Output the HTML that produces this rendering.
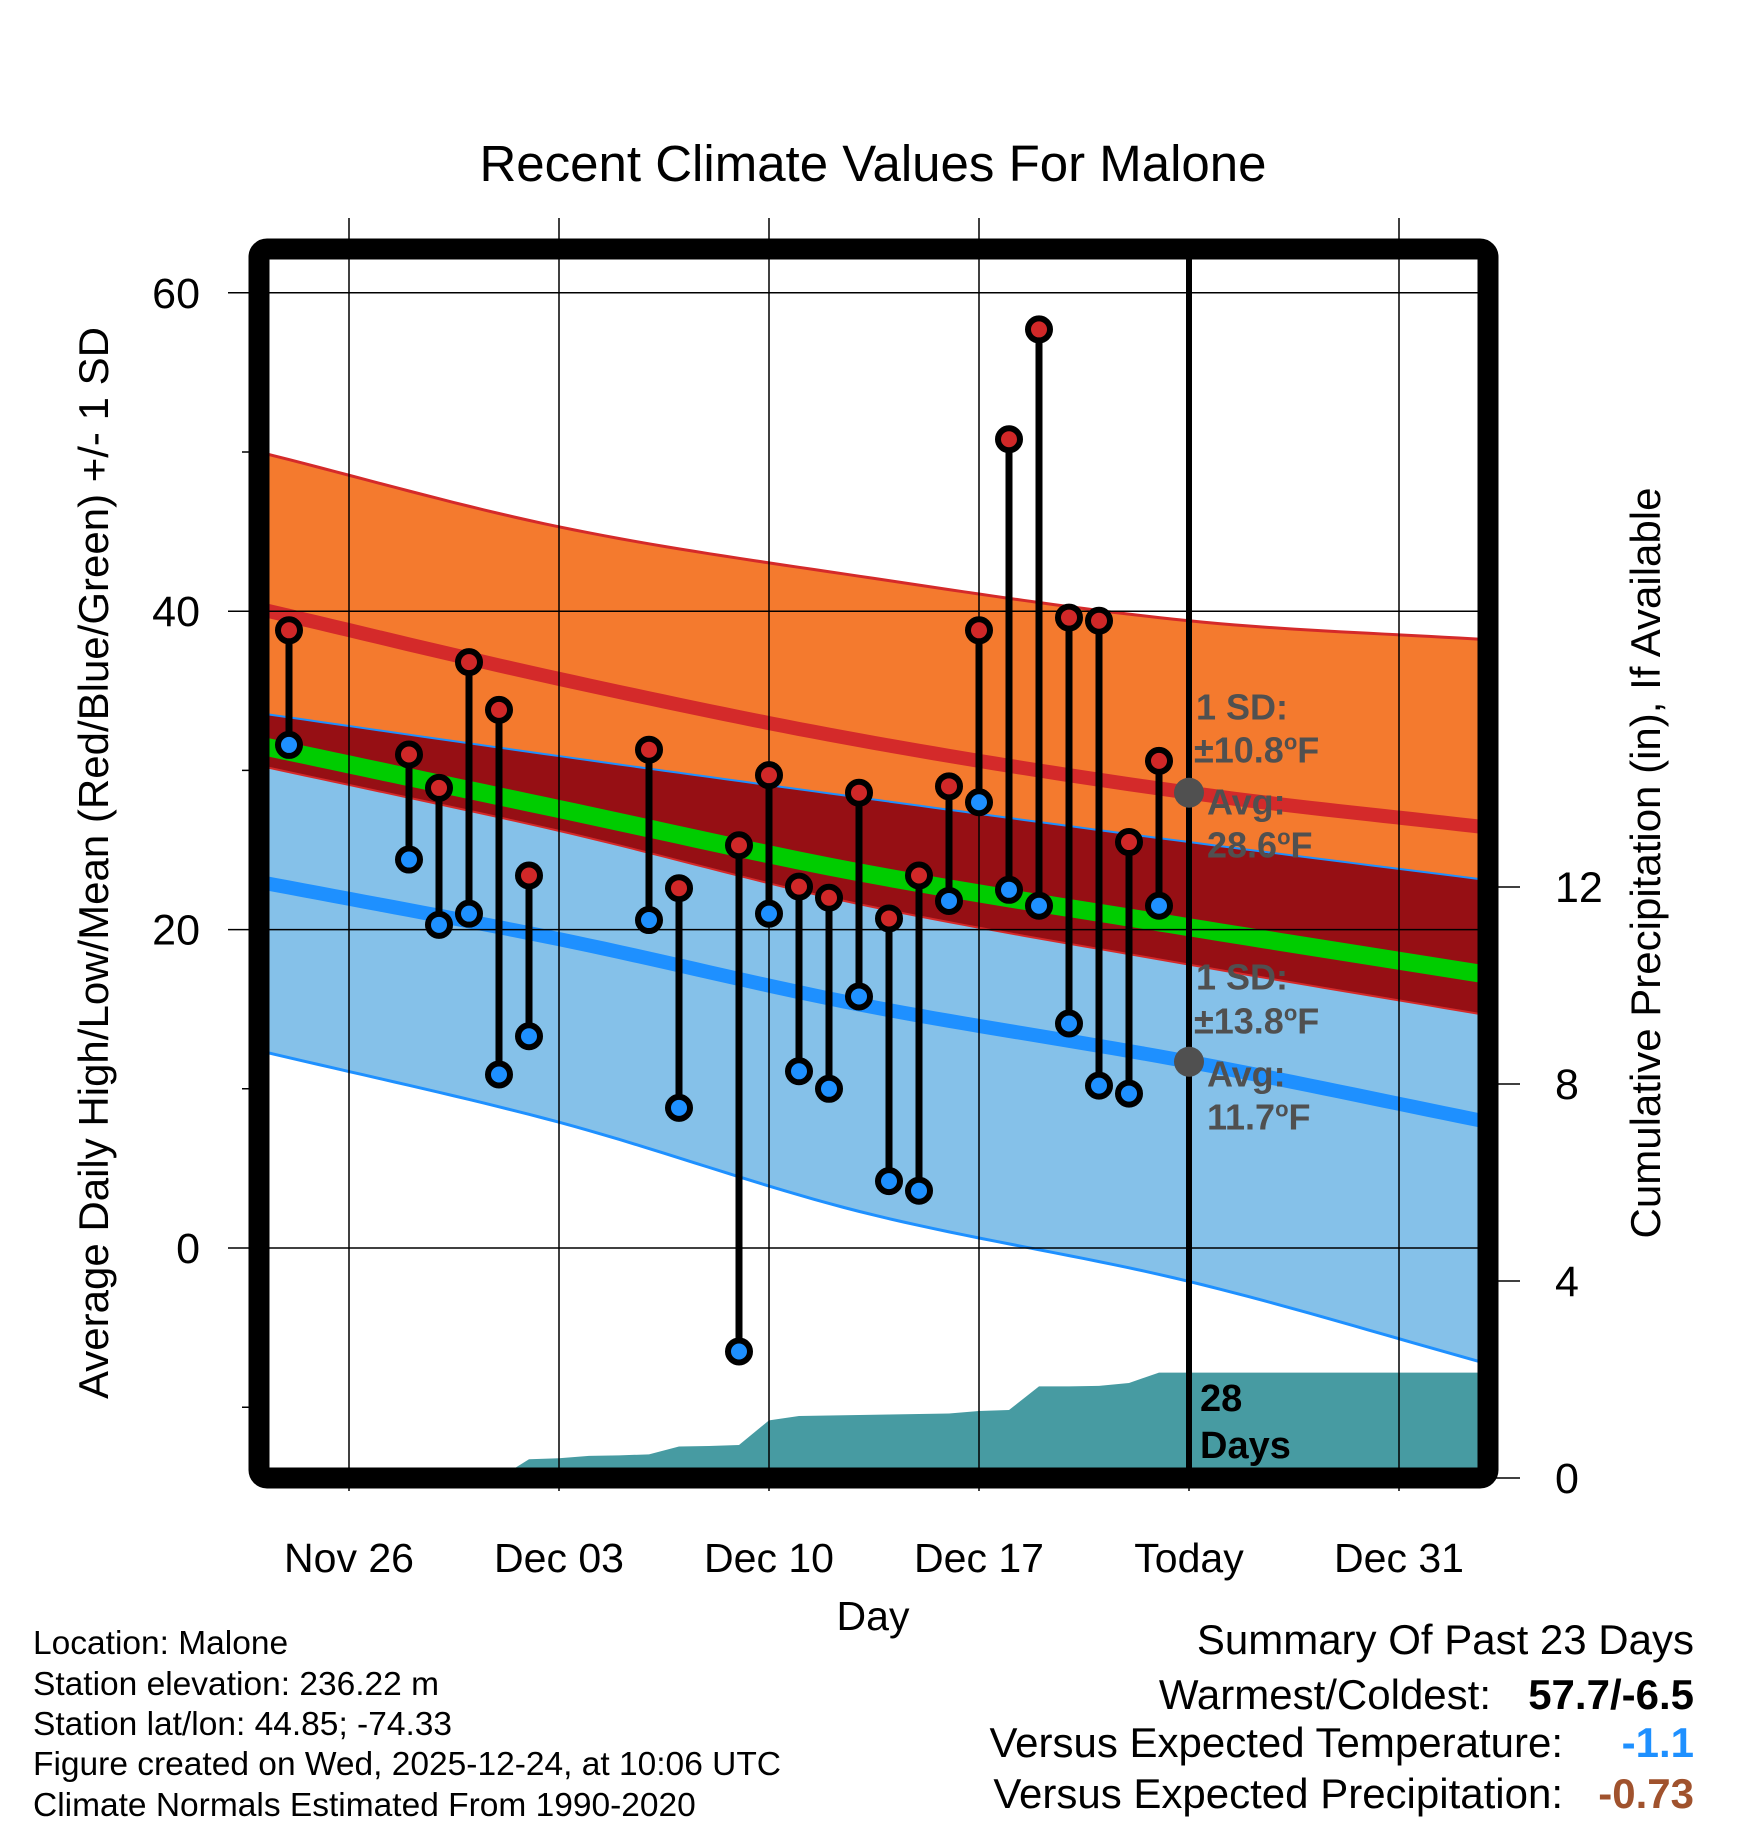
<!DOCTYPE html>
<html><head><meta charset="utf-8">
<style>
html,body{margin:0;padding:0;background:#fff;}
svg{display:block;font-family:"Liberation Sans",Arial,sans-serif;}
</style></head>
<body>
<svg id="chart" width="1748" height="1828" viewBox="0 0 1748 1828" xmlns="http://www.w3.org/2000/svg">
<defs><clipPath id="plotclip"><rect x="259" y="249" width="1229" height="1229"/></clipPath></defs>
<g id="plot" clip-path="url(#plotclip)"></g>
<g id="axes"></g>
<text x="873" y="181" font-size="51" text-anchor="middle">Recent Climate Values For Malone</text>
<text x="873" y="1630" font-size="41" text-anchor="middle">Day</text>
<text transform="translate(108,863) rotate(-90)" font-size="42" text-anchor="middle">Average Daily High/Low/Mean (Red/Blue/Green) +/- 1 SD</text>
<text transform="translate(1660,863) rotate(-90)" font-size="42" text-anchor="middle">Cumulative Precipitation (in), If Available</text>
<g font-size="33.5">
<text x="33" y="1654">Location: Malone</text>
<text x="33" y="1695">Station elevation: 236.22 m</text>
<text x="33" y="1735">Station lat/lon: 44.85; -74.33</text>
<text x="33" y="1775">Figure created on Wed, 2025-12-24, at 10:06 UTC</text>
<text x="33" y="1816">Climate Normals Estimated From 1990-2020</text>
</g>
<g font-size="42" text-anchor="end">
<text x="1694" y="1654">Summary Of Past 23 Days</text>
<text x="1491" y="1709">Warmest/Coldest:</text>
<text x="1694" y="1709" font-weight="bold">57.7/-6.5</text>
<text x="1563" y="1757">Versus Expected Temperature:</text>
<text x="1694" y="1757" font-weight="bold" fill="#1e90ff">-1.1</text>
<text x="1563" y="1808">Versus Expected Precipitation:</text>
<text x="1694" y="1808" font-weight="bold" fill="#a0522d">-0.73</text>
</g>
</svg>
<script>
// day 0 = Nov 23
const obsDays = [1,5,6,7,8,9,13,14,16,17,18,19,20,21,22,23,24,25,26,27,28,29,30];
const obsHigh = [38.8,31.0,28.9,36.8,33.8,23.4,31.3,22.6,25.3,29.7,22.7,22.0,28.6,20.7,23.4,29.0,38.8,50.8,57.7,39.6,39.4,25.5,30.6];
const obsLow  = [31.6,24.4,20.3,21.0,10.9,13.3,20.6,8.8,-6.5,21.0,11.1,10.0,15.8,4.2,3.6,21.8,28.0,22.5,21.5,14.1,10.2,9.7,21.5];
const normDays = [0,10,20,31,41];
const highMean = [40.15,35.75,31.9,28.6,26.4];
const highSd   = [9.85,9.55,10.3,10.8,11.8];
const lowMean  = [23.0,19.4,15.3,11.7,7.9];
const lowSd    = [10.6,11.5,13.0,13.8,15.2];
const precipCum = [0,0,0,0,0,0,0,0,0,0.38,0.40,0.45,0.46,0.48,0.64,0.65,0.67,1.17,1.26,1.27,1.28,1.29,1.30,1.31,1.36,1.38,1.86,1.86,1.87,1.93,2.14,2.14];
const xTickDays = [3,10,17,24,31,38];
const xTickLabels = ["Nov 26","Dec 03","Dec 10","Dec 17","Today","Dec 31"];
const yTicks = [0,20,40,60];
const yMinor = [-10,10,30,50];
const pTicks = [0,4,8,12];
const todayDay = 31;
const lastDay = 41;

const NS="http://www.w3.org/2000/svg";
const X = d => 259 + d*30;
const Y = v => 1248 - v*15.92;
const P = p => 1478 - p*49.25;
function interp(arr, d){
  const n=normDays.length;
  const slope=i=>{
    if(i===0) return (arr[1]-arr[0])/(normDays[1]-normDays[0]);
    if(i===n-1) return (arr[n-1]-arr[n-2])/(normDays[n-1]-normDays[n-2]);
    return (arr[i+1]-arr[i-1])/(normDays[i+1]-normDays[i-1]);
  };
  for(let i=0;i<n-1;i++){
    if(d<=normDays[i+1]||i===n-2){
      const h=normDays[i+1]-normDays[i], t=(d-normDays[i])/h;
      const t2=t*t,t3=t2*t;
      return (2*t3-3*t2+1)*arr[i]+(t3-2*t2+t)*h*slope(i)+(-2*t3+3*t2)*arr[i+1]+(t3-t2)*h*slope(i+1);
    }
  }
}
function mk(parent, tag, attrs){const e=document.createElementNS(NS,tag);for(const k in attrs)e.setAttribute(k,attrs[k]);parent.appendChild(e);return e;}
const plot=document.getElementById('plot');
const axes=document.getElementById('axes');
const days=[];for(let d=0;d<=lastDay;d+=0.5)days.push(d);
const hU=d=>interp(highMean,d)+interp(highSd,d), hL=d=>interp(highMean,d)-interp(highSd,d);
const lU=d=>interp(lowMean,d)+interp(lowSd,d), lL=d=>interp(lowMean,d)-interp(lowSd,d);
const line=f=>days.map(d=>X(d)+','+Y(f(d))).join(' ');
const band=(fu,fl)=>days.map(d=>X(d)+','+Y(fu(d))).concat(days.slice().reverse().map(d=>X(d)+','+Y(fl(d)))).join(' ');

let e;
e=mk(plot,'polygon',{points:band(hU,hL),fill:'#f47a2e'});


e=mk(plot,'polygon',{points:band(lU,lL),fill:'#85c1e9'});


e=mk(plot,'polygon',{points:band(lU,hL),fill:'#960f14'});


mk(plot,'polyline',{points:line(hU),fill:'none',stroke:'#d42a2a','stroke-width':3});
mk(plot,'polyline',{points:line(hL),fill:'none',stroke:'#d42a2a','stroke-width':2});
mk(plot,'polyline',{points:line(lU),fill:'none',stroke:'#1e90ff','stroke-width':2});
mk(plot,'polyline',{points:line(lL),fill:'none',stroke:'#1e90ff','stroke-width':3});
e=mk(plot,'polyline',{points:line(d=>interp(highMean,d)),fill:'none',stroke:'#d42a2a','stroke-width':14});


e=mk(plot,'polyline',{points:line(d=>interp(lowMean,d)),fill:'none',stroke:'#1e90ff','stroke-width':14});


e=mk(plot,'polyline',{points:line(d=>(interp(highMean,d)+interp(lowMean,d))/2),fill:'none',stroke:'#00cc00','stroke-width':18});



// precip
let pp=[X(0)+','+P(0)];
precipCum.forEach((p,i)=>pp.push(X(i)+','+P(p)));
pp.push(X(lastDay+1)+','+P(precipCum[precipCum.length-1]));
pp.push(X(lastDay+1)+','+P(0));
e=mk(plot,'polygon',{points:pp.join(' '),fill:'#479ba2'});



// grid
xTickDays.forEach(d=>{
  const isToday=d===todayDay;
  e=mk(axes,'line',{x1:X(d),x2:X(d),y1:isToday?249:218,y2:isToday?1478:1491,stroke:'#000','stroke-width':isToday?6:1.5});
  
  
  if(isToday) mk(axes,'line',{x1:X(d),x2:X(d),y1:1478,y2:1491,stroke:'#000','stroke-width':1.5});
});
yTicks.forEach(v=>{
  e=mk(axes,'line',{x1:228,x2:1488,y1:Y(v),y2:Y(v),stroke:'#000','stroke-width':1.5});
  
  
  e=mk(axes,'text',{x:200,y:Y(v)+15,'font-size':43,'text-anchor':'end'});
  e.textContent=String(v);
  
  
});
yMinor.forEach(v=>{mk(axes,'line',{x1:242,x2:259,y1:Y(v),y2:Y(v),stroke:'#000','stroke-width':1.5});});
pTicks.forEach(p=>{
  mk(axes,'line',{x1:1488,x2:1520,y1:P(p),y2:P(p),stroke:'#000','stroke-width':1.5});
  e=mk(axes,'text',{x:1555,y:P(p)+15,'font-size':43});
  e.textContent=String(p);
  
  
});
xTickDays.forEach((d,i)=>{
  e=mk(axes,'text',{x:X(d),y:1572,'font-size':41,'text-anchor':'middle'});
  e.textContent=xTickLabels[i];
  
  
});

// observations
obsDays.forEach((d,i)=>{
  e=mk(axes,'line',{x1:X(d),x2:X(d),y1:Y(obsHigh[i]),y2:Y(obsLow[i]),stroke:'#000','stroke-width':7});
  
  
  e=mk(axes,'circle',{cx:X(d),cy:Y(obsHigh[i]),r:11,fill:'#d02828',stroke:'#000','stroke-width':6});
  
  
  e=mk(axes,'circle',{cx:X(d),cy:Y(obsLow[i]),r:11,fill:'#1e90ff',stroke:'#000','stroke-width':6});
  
  
});

// today markers and labels
const tH=interp(highMean,todayDay), tL=interp(lowMean,todayDay);
const tHs=interp(highSd,todayDay), tLs=interp(lowSd,todayDay);
e=mk(axes,'circle',{cx:X(todayDay),cy:Y(tH),r:15,fill:'#505050'});


e=mk(axes,'circle',{cx:X(todayDay),cy:Y(tL),r:15,fill:'#505050'});


function lab(x,y,html,name){
  const t=mk(axes,'text',{x:x,y:y,'font-size':36,'font-weight':'bold',fill:'#505050'});
  t.innerHTML=html;
  
  
}
const deg='<tspan dy="-13" font-size="22">o</tspan><tspan dy="13">F</tspan>';
lab(1196,Y(tH)-73,'1 SD:','high-sd-label');
lab(1194,Y(tH)-30,'±'+tHs.toFixed(1)+deg,'high-sd-value');
lab(1207,Y(tH)+22,'Avg:','high-avg-label');
lab(1207,Y(tH)+65,tH.toFixed(1)+deg,'high-avg-value');
lab(1196,Y(tL)-72,'1 SD:','low-sd-label');
lab(1194,Y(tL)-28,'±'+tLs.toFixed(1)+deg,'low-sd-value');
lab(1207,Y(tL)+25,'Avg:','low-avg-label');
lab(1207,Y(tL)+68,tL.toFixed(1)+deg,'low-avg-value');
e=mk(axes,'text',{x:1200,y:1411,'font-size':38,'font-weight':'bold'});
e.textContent='28';


e=mk(axes,'text',{x:1200,y:1458,'font-size':38,'font-weight':'bold'});
e.textContent='Days';



// frame
e=mk(axes,'rect',{x:259,y:249,width:1229,height:1229,rx:8,fill:'none',stroke:'#000','stroke-width':21});


</script>
</body></html>
